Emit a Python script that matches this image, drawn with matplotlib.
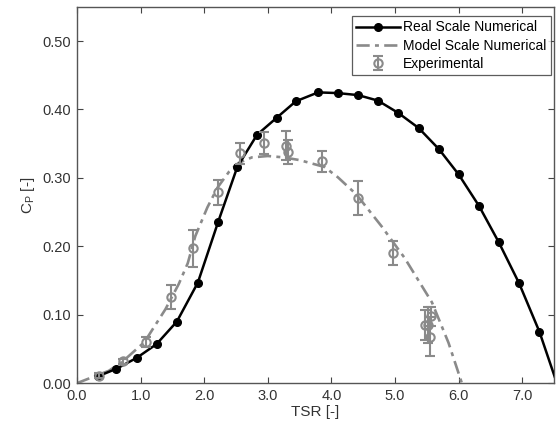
import matplotlib
matplotlib.use("Agg")
import matplotlib.pyplot as plt

plt.rcParams['font.family'] = ['Liberation Sans', 'DejaVu Sans']
plt.rcParams['mathtext.fontset'] = 'custom'
plt.rcParams['mathtext.rm'] = 'Liberation Sans'

# real scale numerical (black, filled markers)
real_tsr = [0.33, 0.62, 0.94, 1.25, 1.57, 1.90, 2.22, 2.52, 2.83, 3.14, 3.44, 3.79,
            4.10, 4.42, 4.73, 5.05, 5.37, 5.69, 6.00, 6.32, 6.63, 6.95, 7.27, 7.58]
real_cp = [0.010, 0.021, 0.037, 0.057, 0.090, 0.147, 0.236, 0.316, 0.363, 0.388, 0.412, 0.425,
           0.424, 0.421, 0.413, 0.395, 0.373, 0.342, 0.305, 0.259, 0.206, 0.146, 0.075, -0.01]

# model scale numerical (grey dash-dot)
model_tsr = [0.0, 0.5, 0.71, 1.06, 1.39, 1.60, 1.74, 1.86, 2.05, 2.21, 2.39, 2.54, 2.75,
             3.0, 3.25, 3.5, 3.89, 4.1, 4.39, 4.79, 5.15, 5.58, 5.84, 6.05]
model_cp = [0.0, 0.018, 0.031, 0.060, 0.108, 0.145, 0.175, 0.215, 0.257, 0.286, 0.309, 0.322, 0.330,
            0.332, 0.330, 0.326, 0.316, 0.301, 0.276, 0.229, 0.183, 0.118, 0.059, 0.0]

# experimental with error bars
exp_tsr = [0.35, 0.72, 1.09, 1.47, 1.83, 2.21, 2.56, 2.94, 3.28, 3.32, 3.85, 4.41, 4.96,
           5.47, 5.52, 5.55, 5.56]
exp_cp = [0.011, 0.032, 0.060, 0.126, 0.197, 0.279, 0.336, 0.351, 0.347, 0.338, 0.324, 0.271, 0.190,
          0.085, 0.085, 0.068, 0.098]
exp_err = [0.004, 0.004, 0.007, 0.018, 0.027, 0.018, 0.015, 0.016, 0.021, 0.018, 0.016, 0.025, 0.018,
           0.022, 0.027, 0.028, 0.014]

grey = '#8a8a8a'

fig = plt.figure(figsize=(5.58, 4.30), dpi=100)
ax = fig.add_axes([0.138, 0.109, 0.855, 0.875])

ax.plot(real_tsr, real_cp, '-o', color='black', lw=1.8, ms=5.5,
        label='Real Scale Numerical', zorder=3)
ax.plot(model_tsr, model_cp, color=grey, lw=1.9, dashes=(5, 2, 1.5, 2),
        label='Model Scale Numerical', zorder=2)
ax.errorbar(exp_tsr, exp_cp, yerr=exp_err, fmt='o', mfc='none', mec=grey, ms=6,
            mew=1.5, ecolor=grey, elinewidth=1.5, capsize=3.5, capthick=1.5,
            label='Experimental', zorder=4)

ax.set_xlim(0, 7.5)
ax.set_ylim(0, 0.55)
ax.set_xticks([0, 1, 2, 3, 4, 5, 6, 7])
ax.set_xticklabels(['%.1f' % v for v in [0, 1, 2, 3, 4, 5, 6, 7]])
ax.set_yticks([0, 0.1, 0.2, 0.3, 0.4, 0.5])
ax.set_yticklabels(['%.2f' % v for v in [0, 0.1, 0.2, 0.3, 0.4, 0.5]])
ax.tick_params(direction='in', top=True, right=True, labelsize=10.5, length=4,
               color='#444444', labelcolor='#333333', pad=4)
for s in ax.spines.values():
    s.set_color('#555555')
    s.set_linewidth(1.0)

ax.set_xlabel('TSR [-]', fontsize=11, color='#333333', labelpad=2)
ax.set_ylabel(r'C$_\mathrm{P}$ [-]', fontsize=11, color='#333333', labelpad=4)

leg = ax.legend(loc='upper right', bbox_to_anchor=(0.993, 0.975), fontsize=10,
                frameon=True, fancybox=False, borderpad=0.3, labelspacing=0.3,
                handlelength=3.2, handletextpad=0.2, borderaxespad=0)
leg.get_frame().set_edgecolor('#333333')
leg.get_frame().set_linewidth(0.9)

fig.savefig('out.png', dpi=100)
